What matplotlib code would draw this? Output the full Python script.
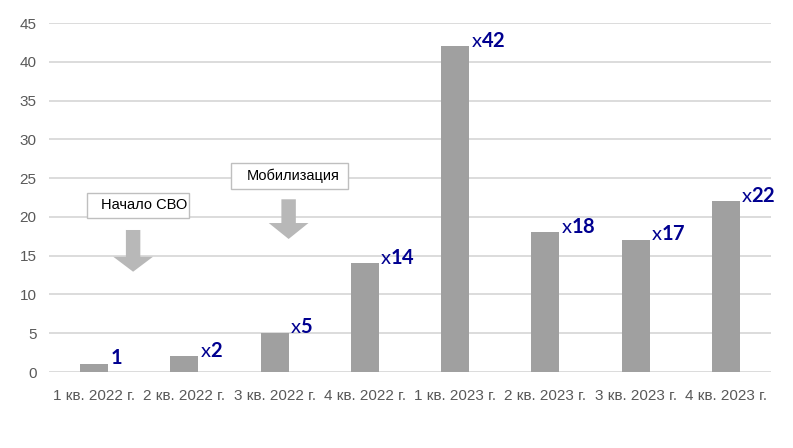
import matplotlib
matplotlib.use("Agg")
import matplotlib.pyplot as plt
from matplotlib.patches import FancyArrow, Rectangle

categories = ["1 кв. 2022 г.", "2 кв. 2022 г.", "3 кв. 2022 г.", "4 кв. 2022 г.",
              "1 кв. 2023 г.", "2 кв. 2023 г.", "3 кв. 2023 г.", "4 кв. 2023 г."]
values = [1, 2, 5, 14, 42, 18, 17, 22]
labels = ["1", "x2", "x5", "x14", "x42", "x18", "x17", "x22"]
yticks = [0, 5, 10, 15, 20, 25, 30, 35, 40, 45]
events = ["Начало СВО", "Мобилизация"]

plt.rcParams['font.family'] = ['Liberation Sans', 'DejaVu Sans']
plt.rcParams['mathtext.fontset'] = 'custom'
plt.rcParams['mathtext.bf'] = 'Lato:bold'
plt.rcParams['mathtext.rm'] = 'Lato'

fig = plt.figure(figsize=(7.93, 4.48), dpi=100)
ax = fig.add_axes([49/793, 1-372/448, (771-49)/793, (372-23)/448])

x = list(range(len(categories)))
ax.bar(x, values, width=0.31, color="#a0a0a0", zorder=3)
ax.set_xlim(-0.5, len(categories)-0.5)
ax.set_ylim(0, 45)
ax.set_yticks(yticks)
ax.set_xticks(x)
ax.set_xticklabels(categories)
ax.tick_params(axis='both', length=0, labelsize=11, colors="#595959")
ax.tick_params(axis='y', pad=9)
ax.tick_params(axis='x', pad=12)
ax.grid(axis='y', color="#d9d9d9", linewidth=1.3, zorder=0)
for s in ax.spines.values():
    s.set_visible(False)

for i, (v, lab) in enumerate(zip(values, labels)):
    if lab.startswith("x"):
        txt = "x$\\mathbf{" + lab[1:] + "}$"
    else:
        txt = "$\\mathbf{" + lab + "}$"
    ax.annotate(txt, xy=(i + 0.155, v), xytext=(1.0, 4.5), textcoords='offset points',
                ha='left', va='center', fontsize=14.5, color="#000090",
                family='Lato', zorder=5)

# event boxes (data-coordinate annotation frames)
box_rects = [(-0.081, 19.86, 1.134, 3.22), (1.518, 23.59, 1.296, 3.36)]
text_pos = [(0.551, 21.47), (2.205, 25.27)]
for (rx, ry, rw, rh), (tx, ty), t in zip(box_rects, text_pos, events):
    ax.add_patch(Rectangle((rx, ry), rw, rh, fc='white', ec='#bfbfbf', lw=1.0, zorder=6))
    ax.text(tx, ty, t, ha='center', va='center', fontsize=10.5, color="#000000", zorder=7)

# arrows
arrow_specs = [(0.432, 18.31, 5.38, 1.93), (2.155, 22.27, 5.12, 2.06)]
for axx, top, length, hl in arrow_specs:
    ax.add_patch(FancyArrow(axx, top, 0, -length, width=0.16, head_width=0.44,
                            head_length=hl, length_includes_head=True,
                            fc="#b8b8b8", ec="none", zorder=6))

fig.savefig("out.png", dpi=100)
